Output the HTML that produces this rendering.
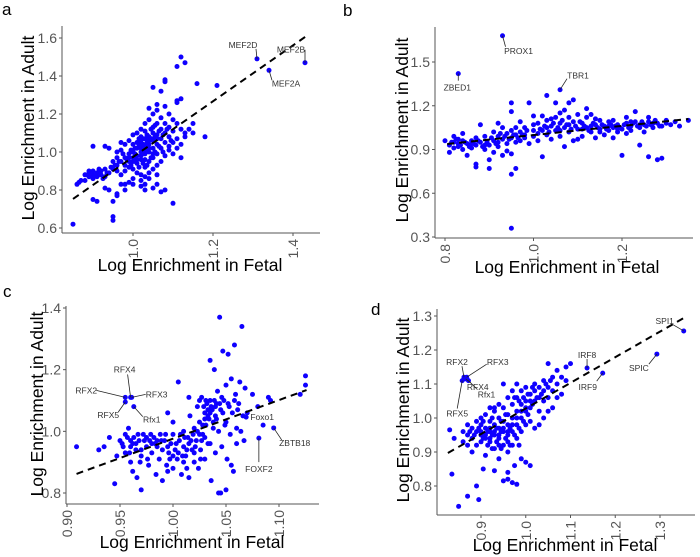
<!DOCTYPE html>
<html><head><meta charset="utf-8">
<style>
html,body{margin:0;padding:0;background:#fff;}
svg{display:block;font-family:"Liberation Sans",sans-serif;}
</style></head>
<body>
<svg id="fig" width="700" height="557" viewBox="0 0 700 557"></svg>
<script>
// ---------- DATA ----------
const pointsA=[[0.88,0.88],[0.89,0.89],[0.89,0.87],[0.90,0.90],[0.90,0.88],[0.91,0.89],[0.91,0.87],[0.92,0.90],[0.90,0.86],[0.89,0.90],[0.92,0.88],[0.93,0.91],[0.87,0.85],[0.86,0.83],[0.865,0.84],[0.88,0.85],[0.93,0.87],[0.94,0.89],[0.95,0.91],[0.96,0.93],
[0.85,0.62],[0.95,0.64],[0.95,0.66],[0.90,0.75],[0.91,0.74],[0.95,0.74],[0.96,0.77],[0.96,0.78],[0.93,0.81],[0.94,0.80],[0.97,0.83],[0.98,0.83],[0.98,0.80],[1.00,0.83],[1.02,0.82],[1.03,0.83],[1.03,0.80],[1.05,0.81],[1.07,0.79],[1.08,0.80],[1.10,0.73],[1.06,0.83],[0.99,0.84],
[0.93,1.03],[0.90,1.03],[0.94,1.02],[0.96,1.00],[0.97,1.05],
[0.97,0.95],[0.98,0.97],[0.98,0.93],[0.99,0.99],[0.99,0.95],[1.00,1.00],[1.00,0.97],[1.00,1.04],[1.01,1.02],[1.01,0.98],[1.01,0.94],[1.02,1.05],[1.02,1.00],[1.02,0.96],[1.03,1.07],[1.03,1.03],[1.03,0.99],[1.03,0.92],[1.04,1.08],[1.04,1.04],[1.04,1.00],[1.04,0.95],[1.05,1.10],[1.05,1.06],[1.05,1.02],[1.05,0.97],[1.06,1.09],[1.06,1.04],[1.06,0.99],[1.07,1.12],[1.07,1.07],[1.07,1.02],[1.08,1.10],[1.08,1.05],[1.08,0.98],[1.09,1.08],[1.09,1.13],[1.10,1.11],[1.10,1.05],[0.99,1.06],[1.00,1.09],[1.01,1.10],[1.02,1.12],[1.03,1.15],[1.04,1.17],[1.05,1.20],[1.06,1.22],[1.07,1.18],[1.08,1.24],[1.09,1.20],[1.10,1.17],[1.11,1.15],[1.12,1.12],[1.11,1.07],[1.12,1.04],[1.13,1.10],[1.14,1.12],[1.15,1.15],[1.15,1.10],[1.18,1.08],[1.11,1.27],[1.12,1.28],[1.11,1.26],[1.08,1.38],[1.08,1.37],[1.05,1.34],[1.07,1.32],[1.11,1.45],[1.12,1.50],[1.13,1.47],[1.16,1.36],[1.21,1.35],[1.04,1.23],[1.06,1.25],[0.98,1.04],[0.97,1.01],[0.96,0.97],[0.95,0.95],[0.96,0.90],[0.97,0.88],[0.98,0.90],[0.99,0.92],[1.00,0.91],[1.01,0.89],[1.02,0.88],[1.03,0.87],[1.04,0.89],[1.05,0.91],[1.06,0.93],[1.07,0.95],[1.09,1.01],[1.10,0.99],[1.00,0.86],[1.02,0.85],[1.04,0.86],[1.06,0.88],[1.03,1.11],[1.02,1.08],[1.05,1.13],[1.06,1.15],[1.08,1.15],[1.09,1.03],[1.11,1.02],[1.12,0.97],[1.13,1.08],
[1.00,0.95],[1.01,0.96],[1.02,0.98],[1.03,1.01],[1.04,1.02],[1.02,1.02],[1.01,1.05],[0.99,0.97],[1.03,0.96],[1.05,0.99],[1.04,1.06],[1.06,1.07],
[0.985,0.96],[0.995,1.01],[1.005,0.99],[1.015,1.03],[1.025,1.04],[1.035,1.05],[1.045,1.07],[1.055,1.08],[1.065,1.11],[1.015,0.92],[1.025,0.94],[1.035,0.93],[1.045,0.97],[1.055,1.00],[1.065,1.03],[0.995,0.93],[1.005,0.95],[1.025,1.07],[1.035,1.09],[1.045,1.12],[1.055,1.14],[0.975,0.99],[0.965,0.95],[0.955,0.93],[1.075,1.09],[1.085,1.12],[1.095,1.06],[1.075,1.00],[1.015,1.07],[1.005,1.02],[0.945,0.92],[0.935,0.89],[0.925,0.86],[0.915,0.91],
[1.31,1.49],[1.34,1.43],[1.43,1.47]];
const pointsB=[[0.80,0.96],[0.81,0.93],[0.81,0.88],[0.82,0.95],[0.82,0.99],[0.83,0.92],[0.83,0.97],[0.84,0.90],[0.84,1.01],[0.85,0.94],[0.85,0.86],[0.86,0.96],[0.86,0.91],[0.87,0.98],[0.87,0.93],[0.87,0.78],[0.87,0.80],[0.88,1.07],[0.88,0.95],[0.89,0.90],[0.89,0.99],[0.90,0.93],[0.90,0.83],[0.90,0.77],[0.91,1.02],[0.91,0.96],[0.91,0.88],[0.92,1.08],[0.92,0.99],[0.92,0.92],[0.93,1.05],[0.93,0.97],[0.93,0.86],[0.94,1.01],[0.94,0.94],[0.94,0.89],[0.95,1.03],[0.95,0.98],[0.95,0.87],[0.95,0.73],[0.95,1.16],[0.95,1.22],[0.96,1.00],[0.96,0.95],[0.96,0.77],[0.97,1.09],[0.97,1.02],[0.98,0.98],[0.98,1.05],[0.99,1.22],[0.99,0.94],[1.00,1.13],[1.00,1.03],[1.00,0.99],[1.01,1.08],[1.01,0.96],[1.02,1.13],[1.02,1.03],[1.02,0.85],[1.03,1.27],[1.03,1.10],[1.03,1.00],[1.04,1.06],[1.04,0.97],[1.05,1.22],[1.05,1.12],[1.05,1.03],[1.06,1.08],[1.06,0.99],[1.06,1.15],[1.07,1.17],[1.07,1.05],[1.07,0.92],[1.08,1.12],[1.08,1.02],[1.08,1.22],[1.09,1.09],[1.09,0.96],[1.09,1.24],[1.10,1.14],[1.10,1.04],[1.11,1.08],[1.11,0.99],[1.12,1.12],[1.12,1.05],[1.13,1.02],[1.13,1.14],[1.14,1.07],[1.14,0.98],[1.15,1.04],[1.15,1.10],[1.16,1.06],[1.16,1.00],[1.17,1.03],[1.17,1.09],[1.18,1.05],[1.18,0.98],[1.19,1.07],[1.19,1.02],[1.20,1.04],[1.20,0.86],[1.21,1.08],[1.21,1.01],[1.22,1.06],[1.22,1.03],[1.23,1.09],[1.23,1.16],[1.24,1.05],[1.24,0.93],[1.25,1.07],[1.25,1.02],[1.26,1.09],[1.26,0.85],[1.27,1.05],[1.28,1.08],[1.28,0.83],[1.29,0.84],[1.29,1.06],[1.30,1.10],[1.31,1.07],[1.32,1.09],[1.33,1.06],[1.35,1.10],[1.12,1.18],[1.14,1.11],[1.18,1.10],[1.21,1.12],[1.26,1.12],[1.27,1.08],[1.10,0.97],[1.04,1.11],[0.98,1.00],[0.97,0.96],[0.96,1.05],[0.92,0.95],[0.89,0.93],[0.86,0.94],[0.84,0.96],[0.83,0.94],[0.82,0.91],[1.00,1.07],[1.01,1.01],[1.03,1.05],[1.06,1.03],[1.08,1.07],[1.11,1.04],[1.13,1.06],[1.15,1.02],[1.17,1.06],[1.19,1.04],[1.22,1.09],[1.24,1.07],[0.95,0.36],
[0.815,0.95],[0.825,0.97],[0.835,0.93],[0.845,0.95],[0.855,0.92],[0.865,0.94],[0.875,0.96],[0.885,0.92],[0.895,0.95],[0.905,0.98],[0.915,0.94],[0.925,1.01],[0.935,0.99],[0.945,0.97],[0.955,1.00],[0.965,0.98],[0.975,1.00],[0.985,1.03],[1.015,1.04],[1.025,1.06],[1.035,1.02],[1.045,1.08],[1.055,1.05],[1.065,1.10],[1.075,1.07],[1.085,1.04],[1.095,1.06],[1.105,1.09],[1.115,1.06],[1.125,1.03],[1.135,1.08],[1.145,1.05],[1.155,1.07],[1.165,1.04],[1.175,1.07],[1.185,1.06],[1.195,1.05],[1.205,1.07],[1.215,1.05],[1.225,1.08],[1.235,1.06],[1.245,1.09],[1.255,1.06],[1.265,1.07],[1.275,1.10],[1.285,1.06],[1.3,1.08],
[0.83,1.42],[0.93,1.68],[1.06,1.31]];
const pointsC=[[0.909,0.95],[0.93,0.94],[0.935,0.95],[0.94,0.98],[0.945,0.83],[0.947,0.92],[0.95,0.97],
[0.952,0.96],[0.955,0.99],[0.955,0.93],[0.958,1.01],[0.96,0.95],[0.96,0.90],[0.962,0.87],[0.963,0.98],[0.965,0.94],[0.966,0.85],[0.968,0.97],[0.97,0.81],[0.97,0.92],[0.972,0.99],[0.975,0.95],[0.977,0.89],[0.978,0.97],[0.98,0.93],[0.982,0.98],[0.984,0.86],[0.985,0.95],[0.987,0.91],[0.988,0.99],[0.99,0.94],[0.99,0.84],[0.992,0.97],[0.994,0.89],[0.995,1.06],[0.996,0.93],[0.998,0.96],[1.0,0.88],[1.0,0.99],[1.0,1.03],[1.002,0.94],[1.004,0.91],[1.005,1.16],[1.006,0.97],[1.008,0.86],[1.01,0.95],[1.01,1.00],[1.012,0.92],[1.014,0.98],[1.015,0.85],[1.016,1.05],[1.018,0.94],[1.02,0.90],[1.02,1.01],[1.022,0.97],[1.023,1.08],[1.024,0.88],[1.025,1.03],[1.026,0.94],[1.027,1.11],[1.028,0.99],[1.03,1.06],[1.03,0.91],[1.031,1.02],[1.032,1.09],[1.033,0.96],[1.034,1.04],[1.035,1.10],[1.035,1.23],[1.036,0.84],[1.037,1.07],[1.038,1.01],[1.039,1.20],[1.04,1.05],[1.04,0.93],[1.041,1.09],[1.042,1.13],[1.043,1.00],[1.044,1.37],[1.045,1.07],[1.045,0.80],[1.046,0.95],[1.047,1.26],[1.048,1.10],[1.05,1.03],[1.05,1.15],[1.051,0.91],[1.052,1.25],[1.053,1.08],[1.054,0.99],[1.055,1.17],[1.056,1.06],[1.057,0.87],[1.058,1.28],[1.059,1.12],[1.06,1.01],[1.06,0.96],[1.062,1.09],[1.063,1.16],[1.065,1.34],[1.066,1.05],[1.067,0.97],[1.068,1.14],[1.07,1.06],[1.075,1.12],[1.08,1.08],[1.085,1.02],[1.09,1.11],[1.092,1.10],[1.12,1.12],[1.125,1.15],[1.125,1.18],[1.05,0.81],[1.043,0.80],[1.055,0.89],[1.035,0.96],[1.025,1.10],[1.015,1.11],
[0.965,0.96],[0.975,0.98],[0.985,0.97],[0.995,0.95],[1.005,0.93],[1.015,0.96],[1.025,0.99],[1.03,1.04],[1.035,1.06],[1.04,1.08],[0.96,0.97],[0.97,0.94],[0.98,0.96],[1.0,0.92],[1.01,0.90],[1.02,0.93],[1.03,0.98],[1.038,1.03],
[0.957,0.98],[0.962,0.96],[0.967,0.99],[0.973,0.97],[0.979,0.99],[0.983,0.96],[0.989,0.97],[0.993,0.99],[0.997,0.91],[1.003,0.96],[1.007,0.99],[1.013,0.94],[1.017,0.97],[1.021,0.95],[1.027,0.97],[1.029,1.08],[1.031,1.10],[1.033,1.05],[1.036,1.08],[1.039,1.10],[1.041,1.04],[1.044,1.09],[1.047,1.06],[1.049,1.02],[1.033,1.07],[1.028,1.02],[1.023,1.00],[1.019,0.99],[1.011,0.98],[1.009,0.92],[0.969,0.90],[0.959,0.93],[0.953,0.95],[0.976,0.91],[0.995,0.87],[1.013,0.88],[1.026,0.91],[1.046,1.11],[1.052,1.09],[1.058,1.10],[1.061,1.07],[1.064,1.00],
[0.955,1.11],[0.960,1.11],[0.961,1.11],[0.955,1.095],[0.963,1.08],[1.069,1.046],[1.095,1.011],[1.081,0.978]];
const pointsD=[[0.835,0.835],[0.85,0.74],[0.87,0.77],[0.89,0.80],[0.895,0.76],[0.83,0.965],[0.84,0.94],[0.905,0.85],[0.93,0.845],[0.95,0.815],[0.96,0.82],[0.97,0.81],[0.98,0.805],[0.96,0.84],[0.975,0.86],[0.99,0.88],[1.0,0.87],[1.01,0.86],
[0.86,0.93],[0.86,0.96],[0.87,0.92],[0.87,0.95],[0.88,0.97],[0.88,0.94],[0.88,0.90],[0.89,0.96],[0.89,0.92],[0.89,0.99],[0.90,0.95],[0.90,0.93],[0.90,0.98],[0.91,0.97],[0.91,0.94],[0.91,1.01],[0.91,0.89],[0.92,0.96],[0.92,0.99],[0.92,0.93],[0.92,1.03],[0.93,0.95],[0.93,0.98],[0.93,0.91],[0.93,1.02],[0.94,0.97],[0.94,0.94],[0.94,1.00],[0.94,0.88],[0.95,0.96],[0.95,0.99],[0.95,1.03],[0.95,0.92],[0.95,1.10],[0.96,0.98],[0.96,0.95],[0.96,1.01],[0.96,1.06],[0.96,0.90],[0.97,1.00],[0.97,0.96],[0.97,1.04],[0.97,1.08],[0.97,0.92],[0.98,1.02],[0.98,0.98],[0.98,1.06],[0.98,1.10],[0.98,0.94],[0.99,1.04],[0.99,1.00],[0.99,1.08],[0.99,0.96],[1.00,1.05],[1.00,1.02],[1.00,1.09],[1.00,0.98],[1.01,1.07],[1.01,1.03],[1.01,0.99],[1.02,1.08],[1.02,1.05],[1.02,1.10],[1.02,0.97],[1.03,1.06],[1.03,1.09],[1.03,1.02],[1.04,1.08],[1.04,1.11],[1.04,1.05],[1.05,1.09],[1.05,1.16],[1.05,1.06],[1.06,1.12],[1.06,1.08],[1.06,1.03],[1.07,1.10],[1.07,1.14],[1.08,1.12],[1.08,1.07],[1.09,1.15],[1.09,1.11],[1.10,1.16],[1.07,1.06],[1.03,0.98],[1.04,1.00],[1.05,1.02],[0.94,1.04],[0.93,1.03],[0.90,1.00],[0.87,0.98],
[0.90,0.96],[0.91,0.95],[0.92,0.97],[0.93,0.96],[0.94,0.95],[0.95,0.97],[0.96,0.96],[0.97,0.98],[0.98,1.00],[0.99,1.02],[1.00,1.03],[1.01,1.05],[0.92,0.94],[0.94,0.92],[0.96,0.93],
[0.875,0.96],[0.885,0.95],[0.895,0.97],[0.905,0.94],[0.915,0.96],[0.925,0.95],[0.935,0.97],[0.945,0.96],[0.955,0.94],[0.965,0.97],[0.975,0.95],[0.985,0.97],[0.995,0.99],[1.005,1.01],[1.015,1.04],[1.025,1.06],[1.035,1.07],[1.045,1.10],[1.055,1.11],[0.905,0.99],[0.915,0.92],[0.925,1.00],[0.935,0.93],[0.945,0.99],[0.955,1.01],[0.965,0.92],[0.975,1.06],[0.985,1.05],[0.995,1.06],[1.005,1.07],[1.015,1.09],[0.945,0.91],[0.925,0.91],[0.985,0.92],
[0.862,1.12],[0.868,1.12],[0.866,1.115],[0.872,1.11],[0.858,1.11],[1.137,1.147],[1.172,1.132],[1.293,1.188],[1.353,1.256]];
const trendA=[[0.85,0.753],[1.4375,1.616]];
const trendB=[[0.805,0.938],[1.35,1.109]];
const trendC=[[0.909,0.862],[1.126,1.134]];
const trendD=[[0.826,0.897],[1.353,1.294]];
const xTicksA=[1.0,1.2,1.4], yTicksA=[0.6,0.8,1.0,1.2,1.4,1.6];
const xTicksB=[0.8,1.0,1.2], yTicksB=[0.3,0.6,0.9,1.2,1.5];
const xTicksC=[0.90,0.95,1.00,1.05,1.10], yTicksC=[0.8,1.0,1.2,1.4];
const xTicksD=[0.9,1.0,1.1,1.2,1.3], yTicksD=[0.8,0.9,1.0,1.1,1.2,1.3];
// label: name, x, y, text dx, text dy, line dx, line dy (offsets in px)
const labelsA=[["MEF2D",1.31,1.49,-14,-14,-1,-10],["MEF2B",1.43,1.47,-14,-13,0,-13],["MEF2A",1.34,1.43,17,13,3,10]];
const labelsB=[["ZBED1",0.83,1.42,-1,14,0,7],["PROX1",0.93,1.68,16,15,3,11],["TBR1",1.06,1.31,18,-14,7,-11]];
const labelsC=[["RFX4",0.960,1.11,-6,-28,-3,-23],["RFX2",0.955,1.11,-39,-7,-29,-7],["RFX3",0.961,1.11,25,-3,14,-3],["RFX5",0.955,1.095,-17,13,-7,10],["Rfx1",0.963,1.08,18,13,9,10],["Foxo1",1.069,1.046,16,0,0,0],["ZBTB18",1.095,1.011,21,15,8,12],["FOXF2",1.081,0.978,0,31,0,24]];
const labelsD=[["RFX2",0.862,1.12,-7,-15,-2,-11],["RFX3",0.868,1.12,31,-15,20,-13],["RFX4",0.866,1.115,12,8,5,4],["Rfx1",0.872,1.11,18,14,9,9],["RFX5",0.858,1.11,-5,33,-5,28],["IRF8",1.137,1.147,0,-13,0,-9],["IRF9",1.172,1.132,-15,14,-6,8],["SPIC",1.293,1.188,-18,14,-8,10],["SPI1",1.353,1.256,-19,-10,-12,-7]];

// ---------- LAYOUT ----------
const panels=[
 {id:"a",pts:pointsA,trend:trendA,xt:xTicksA,yt:yTicksA,lab:labelsA,dec:1,
  sx:[1.0,133,1.2,213],sy:[1.6,38,0.6,228],ax:[62,320],ay:[26,233],
  letter:[2,15],ytitle:[28,128],xtitle:[190,271]},
 {id:"b",pts:pointsB,trend:trendB,xt:xTicksB,yt:yTicksB,lab:labelsB,dec:1,
  sx:[0.8,445,1.2,622],sy:[1.5,62,0.3,237],ax:[435,693],ay:[27,238],
  letter:[343,16],ytitle:[402,130],xtitle:[567,273]},
 {id:"c",pts:pointsC,trend:trendC,xt:xTicksC,yt:yTicksC,lab:labelsC,dec:2,
  sx:[0.90,67,1.10,279],sy:[1.4,308,0.8,493],ax:[66,319],ay:[306,504],
  letter:[3,297],ytitle:[37,404],xtitle:[192,548]},
 {id:"d",pts:pointsD,trend:trendD,xt:xTicksD,yt:yTicksD,lab:labelsD,dec:1,
  sx:[0.9,481,1.3,660],sy:[1.3,316,0.8,486],ax:[437,695],ay:[309,515],
  letter:[371,315],ytitle:[403,410],xtitle:[565,551]}
];
const NS="http://www.w3.org/2000/svg";
const svg=document.getElementById("fig");
function mk(tag,attrs,parent){const e=document.createElementNS(NS,tag);for(const k in attrs)e.setAttribute(k,attrs[k]);(parent||svg).appendChild(e);return e;}
function lin(s){return v=>s[1]+(v-s[0])*(s[3]-s[1])/(s[2]-s[0]);}

panels.forEach(p=>{
  const X=lin(p.sx),Y=lin(p.sy);
  const g=mk("g",{});
  
  
  const L=mk("text",{x:p.letter[0],y:p.letter[1],"font-size":"17"},g);L.textContent=p.id;
  
  
  const xa=mk("line",{x1:p.ax[0],x2:p.ax[1],y1:p.ay[1],y2:p.ay[1],stroke:"#555","stroke-width":"1"},g);
  
  
  const ya=mk("line",{x1:p.ax[0],x2:p.ax[0],y1:p.ay[0],y2:p.ay[1],stroke:"#555","stroke-width":"1"},g);
  
  
  p.yt.forEach(v=>{
    const y=Y(v);
    mk("line",{x1:p.ax[0]-3,x2:p.ax[0],y1:y,y2:y,stroke:"#555"},g);
    const t=mk("text",{x:p.ax[0]-5,y:y+5,"font-size":"14",fill:"#555","text-anchor":"end"},g);
    t.textContent=v.toFixed(1);
    
    
  });
  p.xt.forEach(v=>{
    const x=X(v);
    mk("line",{x1:x,x2:x,y1:p.ay[1],y2:p.ay[1]+3,stroke:"#555"},g);
    const t=mk("text",{x:0,y:0,"font-size":"14",fill:"#555","text-anchor":"end",transform:`translate(${x+5},${p.ay[1]+6}) rotate(-90)`},g);
    t.textContent=v.toFixed(p.dec);
    
    
  });
  const yt=mk("text",{x:0,y:0,"font-size":"17.5","text-anchor":"middle",transform:`translate(${p.ytitle[0]+6},${p.ytitle[1]}) rotate(-90)`},g);
  yt.textContent="Log Enrichment in Adult";
  
  
  const xt=mk("text",{x:p.xtitle[0],y:p.xtitle[1],"font-size":"17.5","text-anchor":"middle"},g);
  xt.textContent="Log Enrichment in Fetal";
  
  
  p.pts.forEach(d=>{
    const c=mk("circle",{cx:X(d[0]),cy:Y(d[1]),r:"2.5",fill:"#0f00ff"},g);
    
    
  });
  const tl=mk("line",{x1:X(p.trend[0][0]),y1:Y(p.trend[0][1]),x2:X(p.trend[1][0]),y2:Y(p.trend[1][1]),stroke:"#000","stroke-width":"2","stroke-dasharray":"7,5"},g);
  
  
  p.lab.forEach(l=>{
    const px=X(l[1]),py=Y(l[2]);
    if(l[5]||l[6]){
      const ln=mk("line",{x1:px,y1:py,x2:px+l[5],y2:py+l[6],stroke:"#222","stroke-width":"0.8"},g);
      
      
    }
    const t=mk("text",{x:px+l[3],y:py+l[4]+3,"font-size":"8.5",fill:"#333","text-anchor":"middle"},g);
    t.textContent=l[0];
    
    
  });
});
</script>
</body></html>
